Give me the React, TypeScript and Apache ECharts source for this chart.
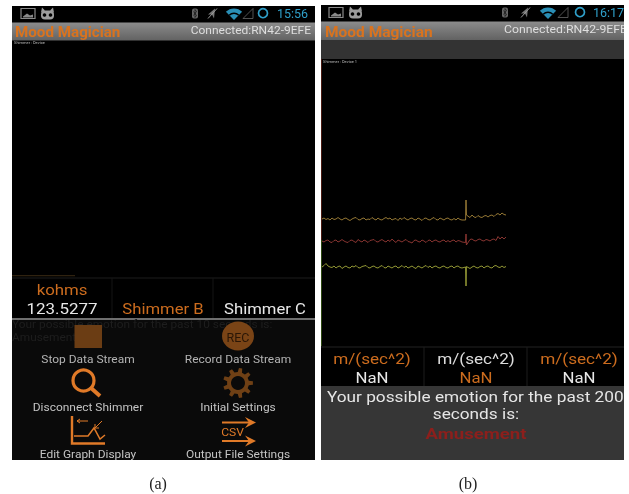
import React, { useEffect, useRef } from "react";
import * as echarts from "echarts";

const seriesOrange = [127,128,126.5,127.5,126,128,126.5,127,128.5,127,126,127.5,128,126.5,125.5,127,128,128.5,126.5,126,127.5,128,126,127,126.5,128.5,127,126,128,126.5,126,127.5,128.5,127,128,126,127,127.5,125.5,128,126.5,128.5,127,126,127.5,128,126.5,126,128,127,125.5,127.5,128,126.5,126,127.5,128.5,126.5,126,128,127,126,127.5,128,126.5,126,127.5,126,128,126.5,126,126,146,131,128.5,131,129,128.5,130.5,129,128.5,130,130.5,129,130.5,131,129.5,131.5,132.5,131,133,131.5,131];
const seriesRed = [105,104,105.5,106,104,103.5,105.5,106,104,105,106.5,105,104,103.5,105.5,106,104.5,103.5,106.5,105,104,106,105,103.5,105.5,106,106.5,104.5,104,105.5,106.5,105,104,106,104.5,107,105,103.5,106,105,104,105.5,106.5,104.5,104,103,105.5,106,104.5,104,106,105,103.5,105.5,106,104,105.5,106,104.5,104,105.5,106,104,105.5,104,105.5,106,104,105.5,105,104,103.5,112,101,106.5,107,105.5,105,106.5,107,105.5,105,106.5,106,105,106.5,107,105.5,109.5,107,109,107,109];
const seriesYellow = [79,80.5,82.5,80,79,78.5,80,78,79.5,80,77.5,79,80,78.5,78,80,79,80.5,78.5,78,79.5,80,80.5,78.5,78,79.5,80,78.5,78,79.5,80.5,78.5,78,80,79,78,79.5,80,78,79,80.5,78.5,80,78,79,80,78.5,77.5,80,79,78,79.5,80.5,78.5,80,78,79.5,80,78.5,78,79.5,80,78.5,78,79.5,80,78,79.5,80,78.5,78,79,60,79.5,77.5,79,80,78.5,78,79.5,80,78,79.5,80,78.5,78,80,80.5,79,78.5,80,78.5,79.5];
const spikeIndex = 72;

const tileUnit = "m/(sec^2)";
const tileValue = "NaN";
const tileXB = [372, 476, 579];
const FONT = "Roboto";
const ORANGE = "#cc6c1e";
const TITLE = "#d9731f";
const BRIGHT = "#e07a28";
const BROWN = "#6f4015";

const txt = (text: string, x: number, y: number, fontSize: number, fill: string, align = "center", fontWeight: any = "normal", fontFamily = FONT, scaleX = 1) => ({
  type: "text", silent: true, x, y, scaleX,
  style: { text, fontSize, fill, align, verticalAlign: "middle", fontWeight, fontFamily },
});
const wide = (text: string, x: number, y: number, fontSize: number, fill: string, scaleX: number, align = "center", fontWeight: any = "normal") =>
  txt(text, x, y, fontSize, fill, align, fontWeight, FONT, scaleX);
const rect = (x: number, y: number, width: number, height: number, fill: any) => ({
  type: "rect", silent: true, shape: { x, y, width, height }, style: { fill },
});
const line = (x1: number, y1: number, x2: number, y2: number, stroke: string, lineWidth = 1) => ({
  type: "line", silent: true, shape: { x1, y1, x2, y2 }, style: { stroke, lineWidth },
});
const poly = (points: number[][], stroke: string, lineWidth = 1) => ({
  type: "polyline", silent: true, shape: { points }, style: { stroke, lineWidth, fill: "none" },
});
const polygon = (points: number[][], fill: string) => ({
  type: "polygon", silent: true, shape: { points }, style: { fill },
});
const barFill = new echarts.graphic.LinearGradient(0, 0, 0, 1, [
  { offset: 0, color: "#8c8c8c" },
  { offset: 1, color: "#626262" },
]);

function statusBar(o: { x: number; y: number; btX: number; muteX: number; wifiX: number; triX: number; circX: number; time: string; timeX: number; timeCol: string }) {
  const { x, y } = o;
  const cy = y + 8;
  return [
    { type: "rect", silent: true, shape: { x: x, y: y + 3, width: 14, height: 10 }, style: { fill: "none", stroke: "#8a8a8a", lineWidth: 1.2 } },
    polygon([[x + 2, y + 11], [x + 6, y + 8], [x + 9, y + 10], [x + 12, y + 9], [x + 12, y + 12], [x + 2, y + 12]], "#8a8a8a"),
    { type: "rect", silent: true, shape: { x: x + 20, y: y + 5, width: 13, height: 9, r: 4 }, style: { fill: "#9c9c9c" } },
    polygon([[x + 20, y + 7], [x + 21, y + 2], [x + 24, y + 5]], "#9c9c9c"),
    polygon([[x + 33, y + 7], [x + 32, y + 2], [x + 29, y + 5]], "#9c9c9c"),
    { type: "circle", silent: true, shape: { cx: x + 23.5, cy: y + 9.5, r: 1.8 }, style: { fill: "#000" } },
    { type: "circle", silent: true, shape: { cx: x + 29.5, cy: y + 9.5, r: 1.8 }, style: { fill: "#000" } },
    { type: "rect", silent: true, shape: { x: o.btX - 3, y: cy - 5, width: 6, height: 10, r: 2 }, style: { fill: "#666" } },
    poly([[o.btX - 1.5, cy - 2], [o.btX + 1.5, cy + 2], [o.btX, cy + 4], [o.btX, cy - 4], [o.btX + 1.5, cy - 2], [o.btX - 1.5, cy + 2]], "#111", 0.7),
    polygon([[o.muteX - 4, cy + 1], [o.muteX + 3, cy - 5], [o.muteX + 2, cy + 5], [o.muteX, cy + 1]], "#777"),
    line(o.muteX - 4, cy + 5, o.muteX + 5, cy - 5, "#999", 1),
    { type: "sector", silent: true, shape: { cx: o.wifiX + 8, cy: cy + 6.5, r: 11.5, r0: 0, startAngle: (-135 * Math.PI) / 180, endAngle: (-45 * Math.PI) / 180 }, style: { fill: "#2a8fb6" } },
    { type: "sector", silent: true, shape: { cx: o.wifiX + 8, cy: cy + 6.5, r: 7.5, r0: 6, startAngle: (-135 * Math.PI) / 180, endAngle: (-45 * Math.PI) / 180 }, style: { fill: "#000" } },
    { type: "polygon", silent: true, shape: { points: [[o.triX, cy + 5], [o.triX + 10, cy - 5], [o.triX + 10, cy + 5]] }, style: { fill: "none", stroke: "#666", lineWidth: 0.8 } },
    { type: "circle", silent: true, shape: { cx: o.circX, cy: cy - 0.3, r: 4.5 }, style: { fill: "none", stroke: "#2f9fc9", lineWidth: 1.7 } },
    txt(o.time, o.timeX, cy - 0.3, 12.5, o.timeCol, "left"),
  ];
}

function gearPoints(cx: number, cy: number, rO: number, rI: number, teeth: number) {
  const pts: number[][] = [];
  for (let i = 0; i < teeth; i++) {
    const a = (i / teeth) * Math.PI * 2;
    const w = (Math.PI * 2) / teeth;
    [[-0.28, rI], [-0.16, rO], [0.16, rO], [0.28, rI]].forEach(([f, r]) => {
      pts.push([cx + r * Math.cos(a + f * w), cy + r * Math.sin(a + f * w)]);
    });
  }
  return pts;
}

const MENU = 1.15;
const panelA = [
  rect(12, 6, 303, 454, "#000"),
  ...statusBar({ x: 21, y: 5.5, btX: 195, muteX: 212, wifiX: 226, triX: 243, circX: 263, time: "15:56", timeX: 277, timeCol: "#2f9fc9" }),
  rect(12, 22.5, 303, 18, barFill),
  wide("Mood Magician", 15, 32, 15.5, TITLE, 0.98, "left", "bold"),
  wide("Connected:RN42-9EFE", 311, 30.5, 11.6, "#dedede", 1.035, "right"),
  txt("Shimmer : Device", 14, 42.5, 4, "#bdbdbd", "left"),
  line(12, 275.7, 75, 275.7, "#3a2a14", 1),
  line(12, 278, 315, 278, "#1c1c1c", 1),
  line(112, 278, 112, 318, "#151515", 1),
  line(213, 278, 213, 318, "#151515", 1),
  wide("kohms", 62, 290, 14, ORANGE, 1.2),
  wide("123.5277", 62, 309, 15, "#e8e8e8", 1.13),
  wide("Shimmer B", 163, 309, 14.5, ORANGE, 1.15),
  wide("Shimmer C", 265, 309, 14.5, "#e8e8e8", 1.15),
  rect(12, 318, 303, 2, "#6e6e6e"),
  rect(12, 320, 303, 140, "#0a0a0a"),
  wide("Your possible emotion for the past 10 seconds is:", 12, 324, 11, "#1e1e1e", 1.08, "left"),
  wide("Amusement", 12, 337, 11, "#1e1e1e", 1.08, "left"),
  rect(74.5, 325, 27.5, 23, "#6b3d14"),
  { type: "ellipse", silent: true, shape: { cx: 238, cy: 336, rx: 16, ry: 14.5 }, style: { fill: "#7a4416" } },
  txt("REC", 238, 337, 12.5, "#2a1606"),
  wide("Stop Data Stream", 88, 360, 10.4, "#b4b4b4", MENU),
  wide("Record Data Stream", 238, 360, 10.4, "#b4b4b4", MENU),
  { type: "circle", silent: true, shape: { cx: 83.5, cy: 380.5, r: 10.5 }, style: { fill: "none", stroke: BRIGHT, lineWidth: 3.2 } },
  line(91, 388, 100, 396, BRIGHT, 4),
  polygon(gearPoints(238, 383, 15, 11, 9), BROWN),
  { type: "circle", silent: true, shape: { cx: 238, cy: 383, r: 7 }, style: { fill: "#0a0a0a" } },
  wide("Disconnect Shimmer", 88, 407.5, 10.4, "#c4c4c4", MENU),
  wide("Initial Settings", 238, 407.5, 10.4, "#c4c4c4", MENU),
  poly([[72, 416], [72, 443.5], [105, 443.5]], BRIGHT, 2.4),
  poly([[74, 436], [88, 436], [94, 428], [100, 439], [105, 435]], BRIGHT, 1.5),
  poly([[88, 421], [77, 421]], BRIGHT, 1),
  poly([[80, 419], [77, 421], [80, 423]], BRIGHT, 1),
  poly([[102, 421], [95, 428]], BRIGHT, 1),
  poly([[95, 424], [95, 428], [99, 428]], BRIGHT, 1),
  line(222, 422.5, 252, 422.5, BRIGHT, 2),
  polygon([[245, 417], [256, 422.5], [245, 428], [249, 422.5]], BRIGHT),
  wide("CSV", 232.5, 432, 11, BRIGHT, 1.1),
  line(222, 441, 252, 441, BRIGHT, 2),
  polygon([[245, 435.5], [256, 441], [245, 446.5], [249, 441]], BRIGHT),
  wide("Edit Graph Display", 88, 455, 10.4, "#c4c4c4", MENU),
  wide("Output File Settings", 238, 455, 10.4, "#c4c4c4", MENU),
];

const panelB = [
  rect(321, 5, 303, 455, "#000"),
  ...statusBar({ x: 329, y: 4.5, btX: 505, muteX: 525, wifiX: 540, triX: 558, circX: 580, time: "16:17", timeX: 593, timeCol: "#2f9fc9" }),
  rect(321, 21.5, 303, 18.5, barFill),
  txt("Mood Magician", 325, 31.5, 15.5, TITLE, "left", "bold"),
  wide("Connected:RN42-9EFE", 504, 29.5, 11.6, "#dedede", 1.06, "left"),
  rect(321, 40, 303, 19, "#333333"),
  txt("Shimmer : Device 1", 323, 61.5, 4, "#bdbdbd", "left"),
  line(321.5, 59, 321.5, 240, "#4a1a12", 1),
  line(321.5, 240, 321.5, 346, "#2e4a12", 1),
  line(321, 347, 624, 347, "#222222", 1),
  line(424, 347, 424, 386, "#1c1c1c", 1),
  line(527, 347, 527, 386, "#1c1c1c", 1),
  wide(tileUnit, tileXB[0], 359, 14.3, ORANGE, 1.2),
  wide(tileUnit, tileXB[1], 359, 14.3, "#dcdcdc", 1.2),
  wide(tileUnit, tileXB[2], 359, 14.3, ORANGE, 1.2),
  wide(tileValue, tileXB[0], 378, 14, "#e8e8e8", 1.2),
  wide(tileValue, tileXB[1], 378, 14, ORANGE, 1.2),
  wide(tileValue, tileXB[2], 378, 14, "#e8e8e8", 1.2),
  rect(321, 386, 303, 74, "#363636"),
  wide("Your possible emotion for the past 200", 327, 397, 14.6, "#e6e6e6", 1.18, "left"),
  wide("seconds is:", 476, 413.5, 14.6, "#e6e6e6", 1.18),
  wide("Amusement", 476, 434, 15, "#8c1f1c", 1.24, "center", "bold"),
  rect(624, 0, 5, 470, "#fff"),
  txt("(a)", 158, 483, 16, "#222", "center", "normal", "Liberation Serif"),
  txt("(b)", 468, 483, 16, "#222", "center", "normal", "Liberation Serif"),
];

const sampleX = (i: number) => (i === spikeIndex - 1 ? i + 0.8 : i === spikeIndex + 1 ? i - 0.8 : i);
const toPoints = (vals: number[]) => vals.map((v, i) => [sampleX(i), v]);

export default function App() {
  const ref = useRef<HTMLDivElement>(null);
  useEffect(() => {
    document.body.style.margin = "0";
    const chart = echarts.init(ref.current!, null, { renderer: "svg" });
    const mk = (data: number[], color: string) => ({
      type: "line", data: toPoints(data), showSymbol: false, symbol: "none", smooth: false, z: 5,
      lineStyle: { color, width: 0.9 }, silent: true,
    });
    chart.setOption({
      animation: false,
      backgroundColor: "#ffffff",
      grid: { left: 322, top: 59, width: 302, height: 287 },
      xAxis: { type: "value", min: 0, max: 151, show: false },
      yAxis: { type: "value", min: 0, max: 287, show: false },
      graphic: { elements: [...panelA, ...panelB] },
      series: [
        mk(seriesOrange, "#a5843a"),
        mk(seriesRed, "#963a36"),
        mk(seriesYellow, "#a3a83a"),
      ],
    });
    return () => chart.dispose();
  }, []);
  return <div ref={ref} style={{ width: 629, height: 494, filter: "blur(0.4px)" }} />;
}
